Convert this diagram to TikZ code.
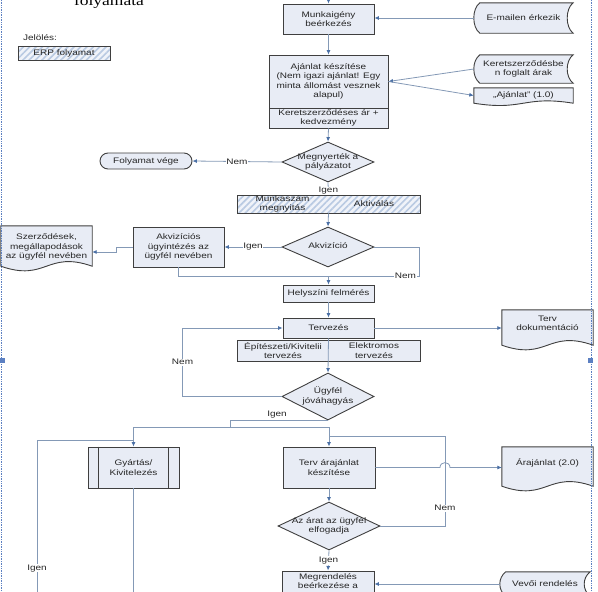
\documentclass[tikz,border=0pt]{standalone}
\usepackage{fontspec}
\setmainfont{Liberation Sans}[FakeStretch=1.25]
\newfontfamily\titlefont{Liberation Serif}[FakeStretch=1.25]
\usetikzlibrary{arrows.meta,calc,backgrounds,patterns.meta,shapes.geometric}
\definecolor{boxf}{HTML}{E8ECF5}
\definecolor{boxc}{HTML}{3F3F3F}
\definecolor{linec}{HTML}{8499B6}
\definecolor{arrc}{HTML}{4A6FA5}
\definecolor{hatchc}{HTML}{B9CAE2}
\definecolor{hatchf}{HTML}{F0F3F9}
\definecolor{bordc}{HTML}{5C80C2}
\newcommand*{\dtxt}[1]{\makebox[0pt]{\begin{tabular}{@{}c@{}}#1\end{tabular}}}
\newcommand*{\storedshape}[1]{%
	\draw[draw=boxc,fill=boxf,line width=0.9pt] ($(#1.north west)+(6,0)$) -- (#1.north east)
		.. controls ($(#1.north east)+(-8,6)$) and ($(#1.south east)+(-8,-6)$) .. (#1.south east)
		-- ($(#1.south west)+(6,0)$)
		.. controls ($(#1.south west)+(-2,-6)$) and ($(#1.north west)+(-2,6)$) .. ($(#1.north west)+(6,0)$) -- cycle;}
\newcommand*{\docshape}[3]{%
	\draw[draw=boxc,fill=boxf,line width=0.9pt] (#1.north west) -- (#1.north east) -- ($(#1.south east)+(0,#2)$)
		.. controls ($(#1.south west)!0.5!(#1.south east)+(0,#2-#3)$) and ($(#1.south west)!0.5!(#1.south east)+(0,#2+#3)$) .. ($(#1.south west)+(0,#2)$) -- cycle;}
\tikzset{
	txt/.style={font=\fontsize{8}{9.5}\selectfont, text=black!85, align=center, inner sep=1pt},
	proc/.style={txt, draw=boxc, fill=boxf, line width=0.9pt},
	dec/.style={txt, shape=diamond, draw=boxc, fill=boxf, line width=0.9pt, inner sep=0pt},
	term/.style={proc, rounded corners=8pt},
	erpbox/.style={txt, draw=boxc, line width=0.9pt, preaction={fill=hatchf}, pattern={Lines[angle=45,distance=4.5pt,line width=1.6pt]}, pattern color=hatchc},
	free/.style={txt, draw=none, fill=none},
	conn/.style={draw=linec, line width=0.8pt},
	arr/.style={conn, -{Latex[length=4.5pt,width=4pt,color=arrc]}},
	lbl/.style={txt, fill=white, inner sep=0.6pt},
}
\begin{document}
\begin{tikzpicture}[x=1pt,y=-1pt]
	\useasboundingbox (0,0) rectangle (598,592);
	\node[anchor=base, inner sep=0pt, font=\titlefont\fontsize{14}{16}\selectfont] (cim) at (109,5) {folyamata};
	\node[txt] (jel) at (40,38) {Jelölés:};
	\node[erpbox, minimum width=92pt, minimum height=14pt] (erpjel) at (64,53) {ERP folyamat};

	\coordinate (be) at (328.5,0);
	\node[proc, minimum width=91pt, minimum height=30pt] (munka) at (328.5,19) {Munkaigény\\beérkezés};
	\node[free, minimum width=99pt, minimum height=30pt] (email) at (523.5,18) {E-mailen érkezik};
	\node[proc, minimum width=119pt, minimum height=53pt] (ajanlat) at (328.5,81.5) {Ajánlat készítése\\(Nem igazi ajánlat! Egy\\minta állomást vesznek\\alapul)};
	\node[proc, minimum width=119pt, minimum height=20pt] (keret) at (328.5,118) {Keretszerződéses ár +\\kedvezmény};
	\node[free, minimum width=99pt, minimum height=28pt] (keretdoc) at (523.5,69) {Keretszerződésbe\\n foglalt árak};
	\node[free, minimum width=99pt, minimum height=15pt] (ajdoc) at (523.5,95.5) {„Ajánlat” (1.0)};
	\node[dec, minimum width=92pt, minimum height=40pt] (megny) at (328,162) {\dtxt{Megnyerték a\\pályázatot}};
	\node[term, minimum width=92pt, minimum height=16pt] (vege) at (146,161) {Folyamat vége};
	\node[erpbox, minimum width=183pt, minimum height=18pt] (erp) at (328.5,204) {};
	\node[txt] (erpa) at (282.5,204) {Munkaszám\\megnyitás};
	\node[txt] (erpb) at (374,204) {Aktiválás};
	\node[dec, minimum width=92pt, minimum height=40pt] (akv) at (328,247) {\dtxt{Akvizíció}};
	\node[proc, minimum width=91pt, minimum height=40pt] (akviz) at (178.5,247) {Akvizíciós\\ügyintézés az\\ügyfél nevében};
	\node[free, minimum width=91pt, minimum height=42pt] (szerz) at (46.5,247) {Szerződések,\\megállapodások\\az ügyfél nevében};
	\node[proc, minimum width=91pt, minimum height=17pt] (helysz) at (328.5,293.5) {Helyszíni felmérés};
	\node[proc, minimum width=91pt, minimum height=20pt] (terv) at (328.5,328) {Tervezés};
	\node[proc, minimum width=183pt, minimum height=21pt] (tsub) at (328.5,350.5) {};
	\node[txt] (tsuba) at (283,350.5) {Építészeti/Kivitelii\\tervezés};
	\node[txt] (tsubb) at (374,350.5) {Elektromos\\tervezés};
	\node[free, minimum width=91pt, minimum height=27pt] (tervdok) at (547.5,323.5) {Terv\\dokumentáció};
	\node[dec, minimum width=92pt, minimum height=47pt] (ugyfel) at (328,396.5) {\dtxt{Ügyfél\\jóváhagyás}};
	\node[proc, minimum width=91pt, minimum height=41pt] (gyartas) at (133.5,467.5) {Gyártás/\\Kivitelezés};
	\node[proc, minimum width=92pt, minimum height=41pt] (tervar) at (329,467.5) {Terv árajánlat\\készítése};
	\node[free, minimum width=91pt, minimum height=32pt] (arajdoc) at (547.5,463) {Árajánlat (2.0)};
	\node[dec, minimum width=102pt, minimum height=48pt] (arat) at (329,526) {\dtxt{Az árat az ügyfél\\elfogadja}};
	\node[proc, minimum width=92pt, minimum height=30pt] (megrend) at (328,586) {Megrendelés\\beérkezése a\\vevőtől};
	\node[free, minimum width=90pt, minimum height=24pt] (vevoi) at (545,584) {Vevői rendelés};

	\begin{scope}[on background layer]
		\storedshape{email}
		\storedshape{keretdoc}
		\storedshape{vevoi}
		\docshape{ajdoc}{0}{8}
		\docshape{szerz}{-2}{16}
		\docshape{tervdok}{8}{16}
		\docshape{arajdoc}{7}{16}
	\end{scope}
	\draw[boxc, line width=0.9pt] ($(gyartas.north west)+(11,0)$) -- ($(gyartas.south west)+(11,0)$);
	\draw[boxc, line width=0.9pt] ($(gyartas.north east)+(-11,0)$) -- ($(gyartas.south east)+(-11,0)$);

	\draw[arr] (be) -- (munka.north);
	\draw[arr] (email.west) -- (email.west -| munka.east);
	\draw[arr] (munka.south) -- (ajanlat.north);
	\draw[arr] (keretdoc.west) -- (ajanlat.east);
	\draw[arr] (ajanlat.east) -- (ajdoc.west);
	\draw[arr] (keret.south) -- (megny.north);
	\draw[arr] (megny.west) -- node[lbl] (nem1) {Nem} (vege.east);
	\draw[arr] (megny.south) -- node[lbl, pos=0.7] (igen1) {Igen} (erp.north);
	\draw[arr] (erp.south) -- (akv.north);
	\draw[arr] (akv.west) -- node[lbl] (igen2) {Igen} (akviz.east);
	\draw[arr] (akviz.west) -- ++(-16,0) |- ($(szerz.east)+(0,5)$);
	\coordinate (m1) at (328.5,276);
	\draw[conn] (akviz.south) |- (m1);
	\draw[conn] (akv.east) -| (419,276) -- node[lbl, pos=0.15] (nem2) {Nem} (m1);
	\draw[arr] (m1) -- (helysz.north);
	\draw[arr] (helysz.south) -- (terv.north);
	\draw[arr] (terv.east) -- (terv.east -| tervdok.west);
	\draw[arr] (terv.south) -- (ugyfel.north);
	\draw[arr] (ugyfel.west) -- ++(-99,0) |- node[lbl, pos=0.25] (nem3) {Nem} (terv.west);
	\coordinate (sp) at (230,427);
	\draw[conn] (ugyfel.south) -| (sp);
	\node[txt] (igen3) at (277,415) {Igen};
	\draw[arr] (sp) -| (gyartas.north);
	\draw[arr] (sp) -| (tervar.north);
	\coordinate (lent) at (37,600);
	\draw[conn] (lent) |- node[lbl, pos=0.1] (igen4) {Igen} ($(gyartas.north)+(0,-6)$);
	\draw[conn] (gyartas.south) -- ++(0,120);
	\draw[arr] (tervar.east) -- (440,467.5) .. controls (440,461) and (450,461) .. (450,467.5) -- (tervar.east -| arajdoc.west);
	\draw[arr] (tervar.south) -- (arat.north);
	\draw[conn] (arat.east) -| node[lbl, pos=0.6] (nem4) {Nem} ($(tervar.north)+(116,-10)$) -- ($(tervar.north)+(0,-10)$);
	\draw[arr] (arat.south) -- node[lbl] (igen5) {Igen} (megrend.north);
	\draw[arr] (vevoi.west) -- (vevoi.west -| megrend.east);

	\draw[bordc, densely dotted, line width=0.7pt] (1.5,0) -- (1.5,592);
	\draw[bordc, densely dotted, line width=0.7pt] (591.5,0) -- (591.5,592);
	\fill[bordc] (0,358) rectangle (5,363);
	\fill[bordc] (588,358) rectangle (593,363);
\end{tikzpicture}
\end{document}
